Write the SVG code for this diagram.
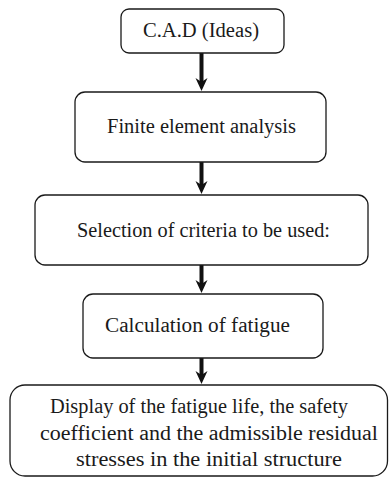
<svg xmlns="http://www.w3.org/2000/svg" width="389" height="478" viewBox="0 0 389 478">
<defs>
<style>
.box{fill:#fff;stroke:#1a1a1a;stroke-width:1.3}
.t{font-size:20.5px;fill:#1a1a1a;text-anchor:middle}
.shaft{stroke:#111;stroke-width:4;fill:none}
.head{fill:#111}
</style>
</defs>
<g id="connectors">
<line class="shaft" x1="201.5" y1="53" x2="201.5" y2="82"/>
<path class="head" d="M195.5,78 L201.5,82 L207.5,78 L201.5,91 Z"/>
<line class="shaft" x1="201.5" y1="162" x2="201.5" y2="185"/>
<path class="head" d="M195.5,181 L201.5,185 L207.5,181 L201.5,194 Z"/>
<line class="shaft" x1="201.5" y1="265" x2="201.5" y2="284"/>
<path class="head" d="M195.5,280 L201.5,284 L207.5,280 L201.5,293 Z"/>
<line class="shaft" x1="201.5" y1="358" x2="201.5" y2="375"/>
<path class="head" d="M195.5,371 L201.5,375 L207.5,371 L201.5,384 Z"/>
</g>
<g font-family="Liberation Serif, DejaVu Serif, serif">
<g id="node1">
<rect class="box" x="121" y="9" width="163" height="44" rx="8"/>
<text class="t" x="201" y="37" textLength="116" lengthAdjust="spacingAndGlyphs">C.A.D (Ideas)</text>
</g>
<g id="node2">
<rect class="box" x="75" y="92" width="251" height="70" rx="10"/>
<text class="t" x="201.5" y="133" textLength="189" lengthAdjust="spacingAndGlyphs">Finite element analysis</text>
</g>
<g id="node3">
<rect class="box" x="35" y="195" width="333" height="70" rx="10"/>
<text class="t" x="203.5" y="237" textLength="253" lengthAdjust="spacingAndGlyphs">Selection of criteria to be used:</text>
</g>
<g id="node4">
<rect class="box" x="83" y="294" width="240" height="64" rx="10"/>
<text class="t" x="197.5" y="332" textLength="185" lengthAdjust="spacingAndGlyphs">Calculation of fatigue</text>
</g>
<g id="node5">
<rect class="box" x="10" y="385" width="377.5" height="91" rx="15"/>
<text class="t" x="199" y="413" textLength="298" lengthAdjust="spacingAndGlyphs">Display of the fatigue life, the safety</text>
<text class="t" x="209" y="440" textLength="338" lengthAdjust="spacingAndGlyphs">coefficient and the admissible residual</text>
<text class="t" x="209" y="466" textLength="266" lengthAdjust="spacingAndGlyphs">stresses in the initial structure</text>
</g>
</g>
</svg>
